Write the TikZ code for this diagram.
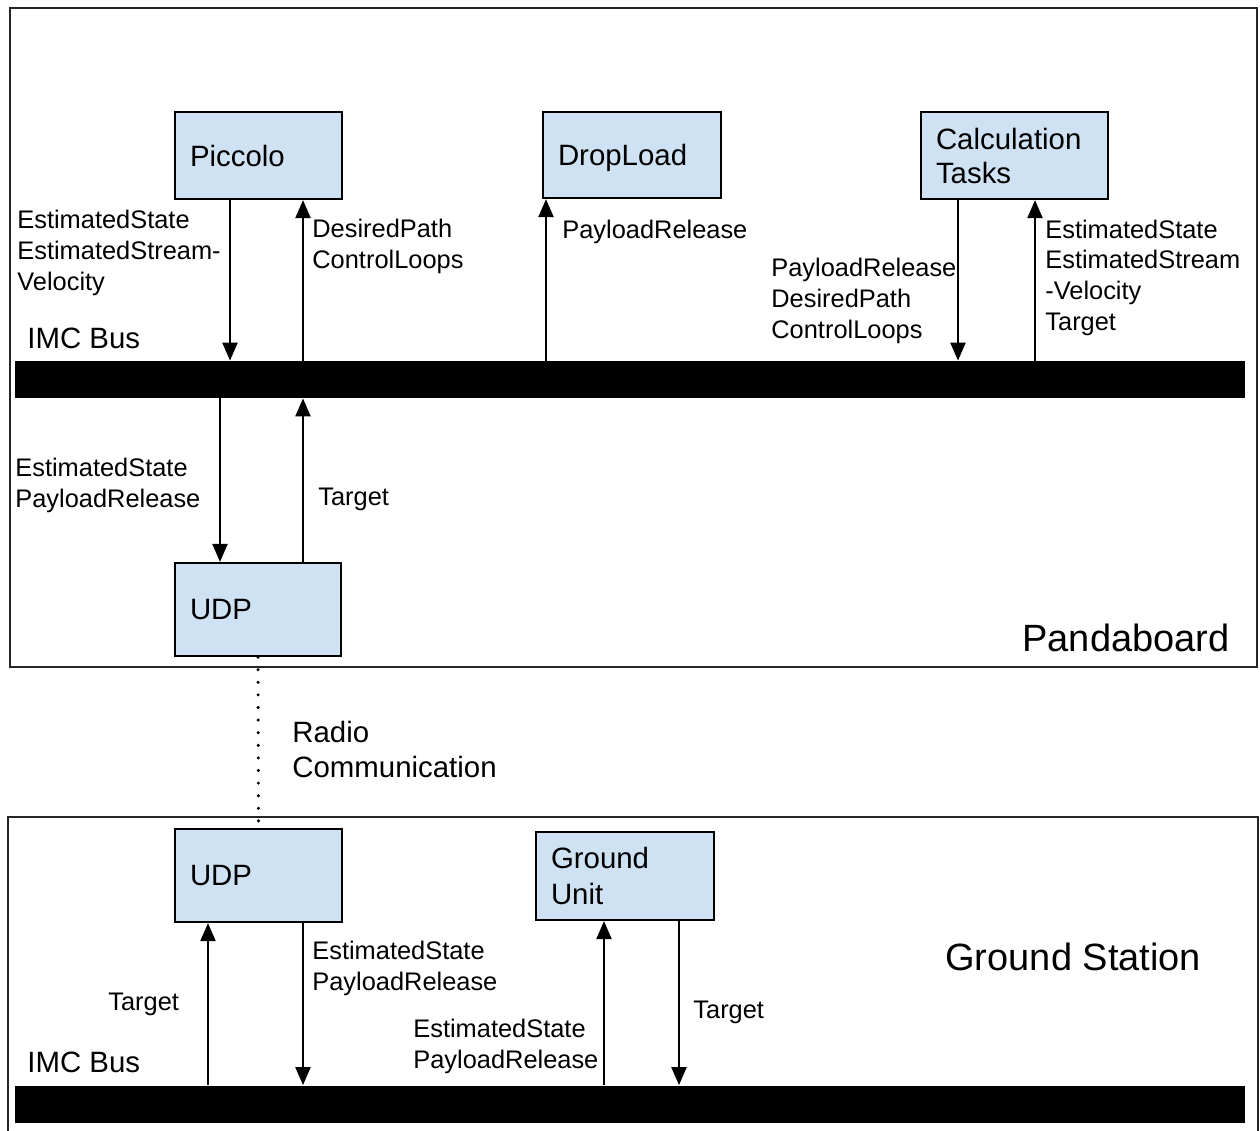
\documentclass[tikz,border=0pt]{standalone}
\usepackage{fontspec}
\setmainfont{Liberation Sans}
\usetikzlibrary{arrows.meta}
\definecolor{boxblue}{HTML}{CFE2F3}
\begin{document}
\begin{tikzpicture}[x=0.5pt,y=-0.5pt,
  comp/.style={draw=black, line width=1.1pt, fill=boxblue, inner xsep=7.5pt, inner ysep=0pt, align=left, font=\fontsize{14.7}{17.5}\selectfont},
  bus/.style={fill=black, inner sep=0pt, minimum width=615pt, minimum height=18.5pt},
  lbl/.style={anchor=base west, inner sep=0pt, align=left, font=\fontsize{12.7}{15.3}\selectfont},
  big/.style={anchor=base west, inner sep=0pt, align=left, font=\fontsize{14.7}{17.5}\selectfont},
  ttl/.style={anchor=base west, inner sep=0pt, font=\fontsize{19}{22}\selectfont},
  arr/.style={line width=1.1pt, -{Triangle[length=9pt,width=7.5pt]}},
  frame/.style={line width=1.1pt, draw=black!85},
  radio/.style={line width=1.7pt, line cap=round, dash pattern=on 0pt off 6.3pt}]
\useasboundingbox (0,0) rectangle (1260,1131);
% outer frames
\draw[frame] (10,8) rectangle (1257,667);
\draw[frame] (8,1131) -- (8,817) -- (1258,817) -- (1258,1131);
% buses
\node[bus] (bus1) at (630,379.5) {};
\node[bus] (bus2) at (630,1104) {};
% components
\node[comp, text width=68.5pt, minimum height=43.5pt] (picc) at (258.5,155.5) {Piccolo};
\node[comp, text width=74pt, minimum height=43pt, text depth=0pt] (drop) at (632,155) {DropLoad};
\node[comp, text width=78.5pt, minimum height=43.5pt, font=\fontsize{14.7}{17}\selectfont] (calc) at (1014.5,155.5) {Calculation\\Tasks};
\node[comp, text width=68pt, minimum height=46.5pt] (udp1) at (258,609.5) {UDP};
\node[comp, text width=68.5pt, minimum height=46.5pt] (udp2) at (258.5,875.5) {UDP};
\node[comp, text width=74pt, minimum height=44pt, font=\fontsize{14.7}{18}\selectfont] (gu) at (625,876) {Ground\\Unit};
% x positions of connectors
\coordinate (xa) at (230,0);
\coordinate (xb) at (303,0);
\coordinate (xc) at (546,0);
\coordinate (xd) at (958,0);
\coordinate (xe) at (1035,0);
\coordinate (xf) at (220,0);
\coordinate (xg) at (208,0);
\coordinate (xh) at (604,0);
\coordinate (xi) at (679,0);
% connectors
\draw[arr] (picc.south -| xa) -- (bus1.north -| xa);
\draw[arr] (bus1.north -| xb) -- (picc.south -| xb);
\draw[arr] (bus1.north -| xc) -- (drop.south -| xc);
\draw[arr] (calc.south -| xd) -- (bus1.north -| xd);
\draw[arr] (bus1.north -| xe) -- (calc.south -| xe);
\draw[arr] (bus1.south -| xf) -- (udp1.north -| xf);
\draw[arr] (udp1.north -| xb) -- (bus1.south -| xb);
\draw[radio] (udp1.south) -- (udp2.north);
\draw[arr] (bus2.north -| xg) -- (udp2.south -| xg);
\draw[arr] (udp2.south -| xb) -- (bus2.north -| xb);
\draw[arr] (bus2.north -| xh) -- (gu.south -| xh);
\draw[arr] (gu.south -| xi) -- (bus2.north -| xi);
% labels (base anchor = baseline of the last line)
\node[lbl] (l1) at (17,290) {EstimatedState\\EstimatedStream-\\Velocity};
\node[lbl] (l2) at (312,268) {DesiredPath\\ControlLoops};
\node[lbl] (l3) at (562,238) {PayloadRelease};
\node[lbl] (l4) at (771,338) {PayloadRelease\\DesiredPath\\ControlLoops};
\node[lbl] (l5) at (1045,330) {EstimatedState\\EstimatedStream\\-Velocity\\Target};
\node[big] (imc1) at (27,348) {IMC Bus};
\node[lbl] (l6) at (15,507) {EstimatedState\\PayloadRelease};
\node[lbl] (l7) at (318,505) {Target};
\node[ttl] (panda) at (1022,651) {Pandaboard};
\node[big] (rc) at (292,777) {Radio\\Communication};
\node[lbl] (l8) at (312,990) {EstimatedState\\PayloadRelease};
\node[lbl] (l9) at (108,1010) {Target};
\node[lbl] (l10) at (413,1068) {EstimatedState\\PayloadRelease};
\node[lbl] (l11) at (693,1018) {Target};
\node[big] (imc2) at (27,1072) {IMC Bus};
\node[ttl] (gs) at (945,970) {Ground Station};
\end{tikzpicture}
\end{document}
